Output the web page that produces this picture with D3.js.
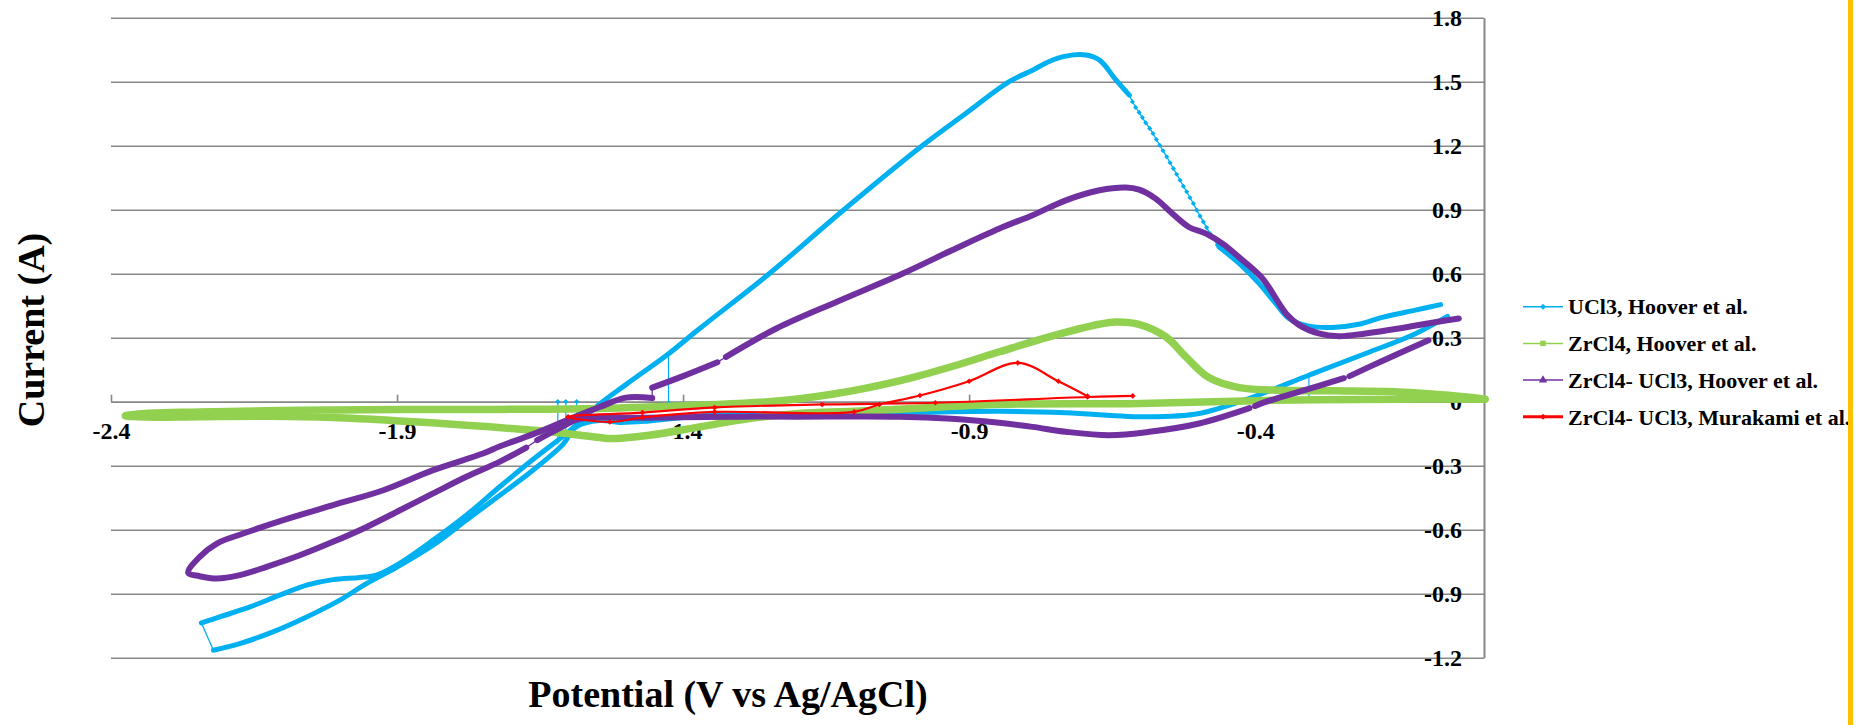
<!DOCTYPE html>
<html>
<head>
<meta charset="utf-8">
<script src="https://cdn.jsdelivr.net/npm/d3@7"></script>
<style>
  body { margin: 0; background: #fff; }
  svg { display: block; }
  text { font-family: "Liberation Serif", "Times New Roman", serif; font-weight: bold; fill: #000; }
</style>
</head>
<body>
<script>
//---------- data ----------
const seriesNames = ['UCl3, Hoover et al.', 'ZrCl4, Hoover et al.',
  'ZrCl4- UCl3, Hoover et al.', 'ZrCl4- UCl3, Murakami et al.'];
const xTicks = [-2.4, -1.9, -1.4, -0.9, -0.4];
const yTicks = [-1.2, -0.9, -0.6, -0.3, 0, 0.3, 0.6, 0.9, 1.2, 1.5, 1.8];

// UCl3, Hoover et al.
const ucl3Cathodic = [[-0.064, 0.40], [-0.120, 0.319], [-0.207, 0.226], [-0.306, 0.124], [-0.411, 0.015],
  [-0.498, -0.055], [-0.585, -0.071], [-0.731, -0.052], [-0.847, -0.045], [-1.0, -0.05], [-1.2, -0.058],
  [-1.35, -0.062], [-1.459, -0.09], [-1.511, -0.097], [-1.546, -0.088], [-1.587, -0.118], [-1.61, -0.2],
  [-1.662, -0.32], [-1.721, -0.44], [-1.779, -0.556], [-1.837, -0.673], [-1.9, -0.775], [-1.953, -0.852],
  [-2.0, -0.93], [-2.058, -1.009], [-2.117, -1.079], [-2.175, -1.134], [-2.221, -1.165]];
const ucl3Anodic = [[-2.242, -1.037], [-2.210, -1.009], [-2.157, -0.962], [-2.105, -0.907], [-2.058, -0.860],
  [-2.012, -0.834], [-1.965, -0.824], [-1.936, -0.813], [-1.9, -0.765], [-1.837, -0.649], [-1.779, -0.532],
  [-1.721, -0.40], [-1.662, -0.27], [-1.6, -0.14], [-1.55, -0.02], [-1.5, 0.08], [-1.43, 0.215],
  [-1.371, 0.343], [-1.249, 0.601], [-1.121, 0.895], [-0.981, 1.202], [-0.906, 1.351], [-0.830, 1.500],
  [-0.789, 1.554], [-0.760, 1.595], [-0.731, 1.620], [-0.696, 1.625], [-0.672, 1.601], [-0.643, 1.507],
  [-0.620, 1.437]];
const ucl3Drop = [[-0.6146, 1.406], [-0.6088, 1.379], [-0.6029, 1.356], [-0.5971, 1.332], [-0.5913, 1.307],
  [-0.5843, 1.281], [-0.5785, 1.257], [-0.5727, 1.229], [-0.5668, 1.202], [-0.5610, 1.176], [-0.5546, 1.148],
  [-0.5488, 1.120], [-0.5430, 1.093], [-0.5372, 1.066], [-0.5313, 1.038], [-0.5255, 1.010], [-0.5197, 0.984],
  [-0.5139, 0.956], [-0.5080, 0.929], [-0.5022, 0.898], [-0.4964, 0.870], [-0.4906, 0.843], [-0.4848, 0.816],
  [-0.4789, 0.788], [-0.4731, 0.765], [-0.4661, 0.734]];
const ucl3Tail = [[-0.463, 0.725], [-0.428, 0.648], [-0.393, 0.554], [-0.364, 0.46], [-0.341, 0.39],
  [-0.306, 0.354], [-0.265, 0.348], [-0.219, 0.363], [-0.178, 0.395], [-0.120, 0.429], [-0.076, 0.455]];
// stray points: [x, current on the trace, current of the stray point]
const ucl3Spikes = [[-1.619, -0.2, 0.0], [-1.605, -0.17, 0.0], [-1.586, -0.12, 0.0],
  [-1.4255, 0.215, -0.006], [-0.306, 0.124, 0.015]];

// ZrCl4, Hoover et al.
const zrcl4Loop = [[0.002, 0.012], [-0.062, 0.03], [-0.149, 0.046], [-0.265, 0.051], [-0.353, 0.054],
  [-0.428, 0.066], [-0.481, 0.113], [-0.521, 0.21], [-0.556, 0.304], [-0.603, 0.363], [-0.644, 0.374],
  [-0.673, 0.363], [-0.760, 0.304], [-0.847, 0.234], [-0.93, 0.165], [-1.022, 0.098], [-1.14, 0.035],
  [-1.25, 0.0], [-1.371, -0.016], [-1.546, -0.032], [-1.721, -0.036], [-1.895, -0.037], [-2.070, -0.040],
  [-2.245, -0.048], [-2.34, -0.055], [-2.375, -0.066], [-2.34, -0.072], [-2.245, -0.07], [-2.12, -0.068],
  [-2.012, -0.074], [-1.895, -0.090], [-1.779, -0.110], [-1.662, -0.134], [-1.604, -0.149],
  [-1.546, -0.168], [-1.528, -0.173], [-1.459, -0.157], [-1.371, -0.118], [-1.284, -0.079],
  [-1.197, -0.055], [-1.1, -0.045], [-0.95, -0.025], [-0.847, -0.012], [-0.6, -0.008], [-0.38, 0.006],
  [-0.15, 0.012], [0.002, 0.012]];

// ZrCl4- UCl3, Hoover et al.
const mixPeak = [[-0.044, 0.39], [-0.091, 0.37], [-0.149, 0.343], [-0.207, 0.32], [-0.254, 0.307],
  [-0.289, 0.32], [-0.323, 0.359], [-0.345, 0.41], [-0.358, 0.46], [-0.387, 0.577], [-0.422, 0.663],
  [-0.457, 0.741], [-0.486, 0.788], [-0.516, 0.819], [-0.545, 0.882], [-0.574, 0.952], [-0.603, 0.994],
  [-0.626, 1.004], [-0.672, 0.991], [-0.731, 0.944], [-0.789, 0.874], [-0.847, 0.812], [-0.93, 0.71],
  [-1.016, 0.601], [-1.13, 0.47], [-1.237, 0.343], [-1.325, 0.21]];
const mixKink = [[-1.34, 0.185], [-1.40, 0.12], [-1.454, 0.066]];
const mixLoop = [[-1.454, 0.017], [-1.5, 0.019], [-1.546, -0.025], [-1.593, -0.075], [-1.662, -0.152],
  [-1.721, -0.21], [-1.750, -0.243], [-1.837, -0.321], [-1.924, -0.415], [-2.012, -0.485], [-2.099, -0.555],
  [-2.169, -0.618], [-2.215, -0.665], [-2.245, -0.727], [-2.265, -0.802], [-2.245, -0.818], [-2.215, -0.829],
  [-2.175, -0.813], [-2.128, -0.774], [-2.070, -0.720], [-2.012, -0.657], [-1.953, -0.587], [-1.895, -0.509],
  [-1.837, -0.430], [-1.779, -0.352], [-1.721, -0.282], [-1.674, -0.215]];
const mixReturn = [[-1.655, -0.18], [-1.62, -0.13], [-1.587, -0.085], [-1.55, -0.072], [-1.5, -0.075],
  [-1.4, -0.073], [-1.3, -0.07], [-1.2, -0.07], [-1.022, -0.07], [-0.93, -0.08], [-0.847, -0.099],
  [-0.789, -0.118], [-0.731, -0.141], [-0.655, -0.157], [-0.585, -0.141], [-0.498, -0.102], [-0.41, -0.03]];
const mixRise = [[-0.40, -0.02], [-0.382, -0.001], [-0.324, 0.046], [-0.245, 0.11]];
const mixEnd = [[-0.235, 0.12], [-0.178, 0.191], [-0.097, 0.288]];

// ZrCl4- UCl3, Murakami et al.
const murakami = [[-0.614, 0.027], [-0.693, 0.022], [-0.959, -0.005], [-1.157, -0.013], [-1.345, -0.027],
  [-1.471, -0.051], [-1.601, -0.071], [-1.528, -0.095], [-1.471, -0.074], [-1.345, -0.048], [-1.101, -0.048],
  [-1.057, -0.013], [-0.986, 0.029], [-0.900, 0.096], [-0.815, 0.182], [-0.744, 0.096], [-0.693, 0.026]];

const series = [
  { name: seriesNames[0], color: '#00B0F0', width: 5, marker: 'diamond',
    runs: [{ pts: ucl3Cathodic }, { pts: ucl3Anodic }, { pts: ucl3Drop, sparse: true }, { pts: ucl3Tail }] },
  { name: seriesNames[1], color: '#92D050', width: 7.5, marker: 'square',
    runs: [{ pts: zrcl4Loop }] },
  { name: seriesNames[2], color: '#7030A0', width: 6, marker: 'triangle',
    runs: [{ pts: mixPeak }, { pts: mixKink }, { pts: mixLoop }, { pts: mixReturn }, { pts: mixRise }, { pts: mixEnd }] },
  { name: seriesNames[3], color: '#FF0000', width: 2, marker: 'diamond', smooth: true,
    runs: [{ pts: murakami, sparse: true }] }
];

//---------- drawing area ----------
let width = 1856, height = 725;
let svg = d3.select('body').append('svg').attr('width', width).attr('height', height);

let x = d3.scaleLinear().domain([-2.4, 0]).range([111, 1484]);
let y = d3.scaleLinear().domain([-1.2, 1.8]).range([657.7, 17.7]);

let fmt = d => d === 0 ? '0' : d.toFixed(1);
let gridColor = '#878787';

// horizontal gridlines
let grid = svg.append('g').attr('transform', `translate(${x(0)},0)`)
  .call(d3.axisLeft(y).tickValues(yTicks).tickSize(x(0) - x(-2.4)).tickFormat(''));
grid.select('.domain').remove();
grid.selectAll('line').attr('stroke', gridColor).attr('stroke-width', 1.6);

// vertical axis line (crosses at 0 V)
let yLine = svg.append('g').attr('transform', `translate(${x(0)},0)`)
  .call(d3.axisRight(y).tickValues([]).tickSizeOuter(0));
yLine.select('.domain').attr('stroke', gridColor).attr('stroke-width', 2);

// horizontal axis at 0 A, ticks pointing up
let xAxis = svg.append('g').attr('transform', `translate(0,${y(0)})`)
  .call(d3.axisBottom(x).tickValues(xTicks).tickSize(-7).tickSizeOuter(0).tickPadding(20).tickFormat(fmt));
xAxis.select('.domain').attr('stroke', gridColor).attr('stroke-width', 1.6);
xAxis.selectAll('line').attr('stroke', gridColor).attr('stroke-width', 1.6);
xAxis.selectAll('text').style('font-size', '24px').attr('fill', '#000');
xAxis.attr('font-family', null).attr('font-size', null);

// y tick labels
let yAxis = svg.append('g').attr('transform', `translate(${x(0)},0)`)
  .call(d3.axisLeft(y).tickValues(yTicks).tickSize(0).tickPadding(22).tickFormat(fmt));
yAxis.select('.domain').remove();
yAxis.selectAll('text').style('font-size', '24px').attr('fill', '#000');
yAxis.attr('font-family', null).attr('font-size', null);

//---------- series ----------
let thick = d3.line().x(d => x(d[0])).y(d => y(d[1])).curve(d3.curveCatmullRom.alpha(0.5));
let straight = d3.line().x(d => x(d[0])).y(d => y(d[1]));

function symbolPath(kind, size) {
  let type = kind === 'triangle' ? d3.symbolTriangle : d3.symbolSquare;
  return d3.symbol().type(type).size(size)();
}
function markerRot(kind) { return kind === 'diamond' ? 45 : 0; }

series.forEach(function (s) {
  let g = svg.append('g').attr('class', 'series');

  // thin joins between runs
  for (let i = 1; i < s.runs.length; i++) {
    let a = s.runs[i - 1].pts, b = s.runs[i].pts;
    g.append('path').attr('d', straight([a[a.length - 1], b[0]]))
      .attr('fill', 'none').attr('stroke', s.color).attr('stroke-width', 1.3);
  }

  s.runs.forEach(function (r) {
    if (r.sparse) {
      g.append('path').attr('d', (s.smooth ? thick : straight)(r.pts))
        .attr('fill', 'none').attr('stroke', s.color).attr('stroke-width', s.smooth ? 2.2 : 1.3);
      g.selectAll(null).data(r.pts).enter().append('path')
        .attr('d', symbolPath(s.marker, s.smooth ? 16 : 13))
        .attr('transform', d => `translate(${x(d[0])},${y(d[1])}) rotate(${markerRot(s.marker)})`)
        .attr('fill', s.color);
    } else {
      g.append('path').attr('d', thick(r.pts))
        .attr('fill', 'none').attr('stroke', s.color).attr('stroke-width', s.width)
        .attr('stroke-linejoin', 'round').attr('stroke-linecap', 'round');
    }
  });

  if (s.name === seriesNames[0]) {
    ucl3Spikes.forEach(function (p) {
      g.append('path').attr('d', straight([[p[0], p[1]], [p[0], p[2]]]))
        .attr('stroke', s.color).attr('stroke-width', 1.2).attr('fill', 'none');
      g.append('path').attr('d', symbolPath('diamond', 14))
        .attr('transform', `translate(${x(p[0])},${y(p[2])}) rotate(45)`).attr('fill', s.color);
    });
  }
});

//---------- legend ----------
let legend = svg.append('g').attr('transform', 'translate(1523,306.7)');
let row = legend.selectAll('g').data(series).enter().append('g')
  .attr('transform', (d, i) => `translate(0,${i * 36.7})`);
row.append('line').attr('x1', 0).attr('x2', 40)
  .attr('stroke', d => d.color).attr('stroke-width', d => d.smooth ? 3 : 1.5);
row.append('path')
  .attr('d', d => symbolPath(d.marker, d.marker === 'diamond' ? 18 : 30))
  .attr('transform', d => `translate(20,0) rotate(${markerRot(d.marker)})`)
  .attr('fill', d => d.color);
row.append('text').attr('x', 45).attr('y', 7.7).style('font-size', '22px').text(d => d.name);

//---------- axis titles ----------
svg.append('text').attr('x', 728).attr('y', 707).attr('text-anchor', 'middle')
  .style('font-size', '38px').text('Potential (V vs Ag/AgCl)');
svg.append('text').attr('transform', 'translate(44,330) rotate(-90)').attr('text-anchor', 'middle')
  .style('font-size', '38px').text('Current (A)');

// yellow frame edge on the right
svg.append('rect').attr('x', 1848).attr('y', 0).attr('width', 5).attr('height', height).attr('fill', '#FFC000');
</script>
</body>
</html>
